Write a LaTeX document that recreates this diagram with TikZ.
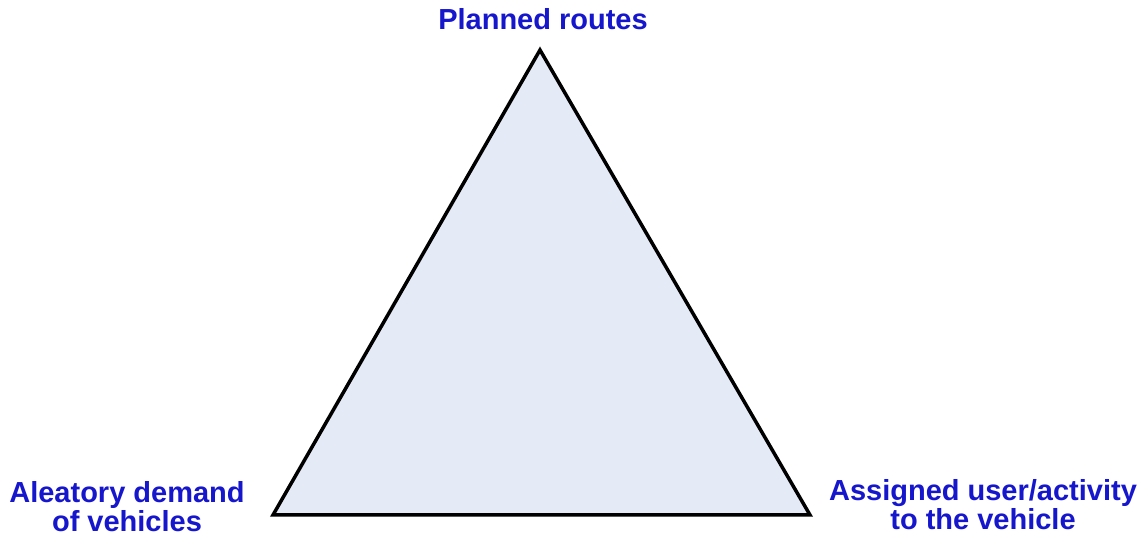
\documentclass[tikz,border=0pt]{standalone}
\usepackage{fontspec}
\setmainfont{Liberation Sans}
\usepackage{tikz}
\usetikzlibrary{positioning}

\definecolor{labelblue}{RGB}{22,22,204}
\definecolor{trifill}{RGB}{228,234,246}

\begin{document}
\begin{tikzpicture}[x=1pt,y=1pt,
    corner/.style={font=\fontsize{29}{29.5}\selectfont\bfseries,text=labelblue,
                   align=center,inner sep=0pt,anchor=base}]
    \useasboundingbox (0,0) rectangle (1144,540);

    % the three vertices
    \coordinate (top)   at (540,490);
    \coordinate (left)  at (273,25);
    \coordinate (right) at (810,25);

    \filldraw[fill=trifill,line width=3.5pt,line join=miter]
        (top) -- (left) -- (right) -- cycle;

    \node[corner] (routes) at (543,510) {Planned routes};
    \node[corner] (demand) at (127,8)   {Aleatory demand\\of vehicles};
    \node[corner] (assign) at (983,10)  {Assigned user/activity\\to the vehicle};

\end{tikzpicture}
\end{document}
